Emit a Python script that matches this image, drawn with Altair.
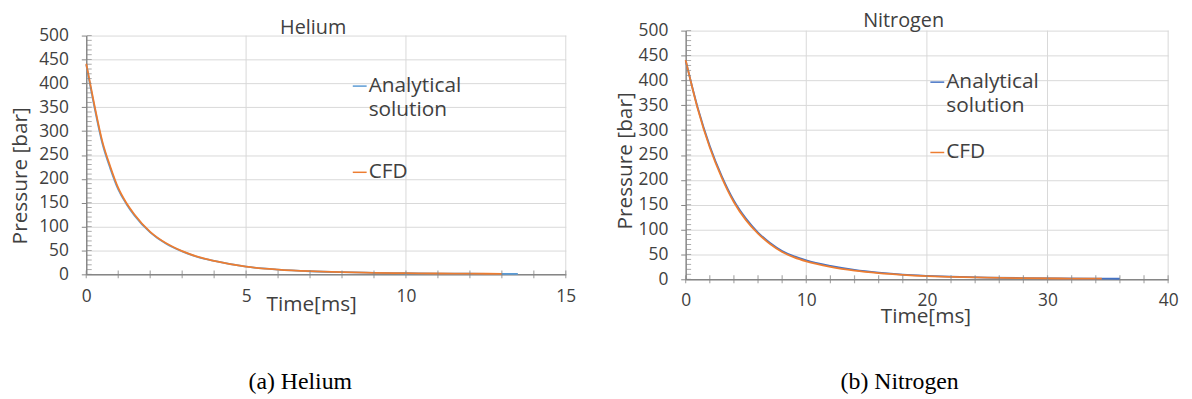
import altair as alt
import pandas as pd

# ---------------- data ----------------
he_t_analytical = [0, 0.25, 0.5, 0.75, 1, 1.25, 1.5, 2, 2.5, 3, 3.5, 4, 5, 6, 7, 8, 9, 10, 11, 12, 13, 13.5]
he_p_analytical = [439, 352, 275, 222, 178, 148, 124, 88, 64, 48, 36, 28, 16, 10, 6.5, 4.5, 3.2, 2.3, 1.7, 1.3, 1.0, 0.9]
he_t_cfd = [0, 0.25, 0.5, 0.75, 1, 1.25, 1.5, 2, 2.5, 3, 3.5, 4, 5, 6, 7, 8, 9, 10, 11, 12, 13]
he_p_cfd = [441, 356, 279, 226, 181, 150, 126, 89, 65, 48.5, 36.5, 28, 16, 10, 6.6, 4.6, 3.3, 2.4, 1.8, 1.4, 1.1]

n2_t_analytical = [0, 1, 2, 3, 4, 5, 6, 7, 8, 9, 10, 12, 14, 16, 18, 20, 22, 25, 28, 31, 34, 36]
n2_p_analytical = [440, 345, 268, 207, 158, 122, 94, 73, 57, 46, 38, 27, 19, 13.5, 9.5, 7, 5.2, 3.5, 2.5, 1.8, 1.3, 1.1]
n2_t_cfd = [0, 1, 2, 3, 4, 5, 6, 7, 8, 9, 10, 12, 14, 16, 18, 20, 22, 25, 28, 31, 34.5]
n2_p_cfd = [441, 343, 265, 204, 155, 119, 92, 71, 55, 44, 36, 25, 17.5, 12.5, 9, 6.5, 4.8, 3.2, 2.3, 1.6, 1.2]

series_names = ["Analytical solution", "CFD"]
legend_labels = ["Analytical\nsolution", "CFD"]

he_x_labels = [0, 5, 10, 15]
he_x_minor = list(range(0, 16))
n2_x_labels = [0, 10, 20, 30, 40]
n2_x_minor = list(range(0, 41, 2))
y_labels = list(range(0, 501, 50))
y_minor = list(range(0, 501, 10))

LABEL = "#404040"
AXIS = "#868686"
GRID = "#d9d9d9"
FONT = "Open Sans"
BIG = 21
TICKFS = 17.5


def panel(title, caption, t_a, p_a, t_c, p_c, x_labels, x_minor, colors,
          width, height, yrange, title_xy, ytitle_xy, xtitle_xy, legend_xy,
          legend_gap, caption_xy, xlabpad):
    df = pd.DataFrame({
        "t": list(t_a) + list(t_c),
        "p": list(p_a) + list(p_c),
        "series": [series_names[0]] * len(t_a) + [series_names[1]] * len(t_c),
    })
    xmax = x_labels[-1]
    xscale = alt.Scale(domain=[0, xmax], nice=False, zero=True)
    yscale = alt.Scale(domain=[0, 500], nice=False, range=yrange)
    cscale = alt.Scale(domain=series_names, range=colors)

    xaxis = alt.Axis(values=x_labels, tickCount=len(x_labels), grid=False, ticks=False,
                     domainColor=AXIS, domainWidth=1.5, labelColor=LABEL, labelFont=FONT,
                     labelFontSize=TICKFS, labelPadding=xlabpad, labelFlush=False,
                     labelOverlap=False, title="Time[ms]",
                     titleFont=FONT, titleFontSize=BIG, titleFontWeight="normal",
                     titleColor=LABEL, titleX=xtitle_xy[0], titleY=xtitle_xy[1],
                     titleBaseline="alphabetic", titleAlign="center")
    yaxis = alt.Axis(values=y_labels, tickCount=len(y_labels), grid=True, gridColor=GRID,
                     gridWidth=1, ticks=True, tickSize=5, tickColor=AXIS, domainColor=AXIS,
                     domainWidth=1.5, labelColor=LABEL, labelFont=FONT,
                     labelFontSize=TICKFS, labelPadding=13, labelOverlap=False,
                     labelFlush=False, title="Pressure [bar]",
                     titleFont=FONT, titleFontSize=BIG, titleFontWeight="normal",
                     titleColor=LABEL, titleX=ytitle_xy[0], titleY=ytitle_xy[1],
                     titleBaseline="middle", titleAlign="center", titleAngle=270)

    X = lambda f: alt.X(f, scale=xscale, axis=xaxis)
    Y = lambda f: alt.Y(f, scale=yscale, axis=yaxis)

    vgrid_df = pd.DataFrame({"x": [v for v in x_labels if v > 0], "y0": 0, "y1": 500})
    vgrid = alt.Chart(vgrid_df).mark_rule(color=GRID, strokeWidth=1).encode(
        x=X("x:Q"), y=Y("y0:Q"), y2="y1:Q",
    )

    lines = alt.Chart(df).mark_line(strokeWidth=1.8, interpolate="monotone").encode(
        x=X("t:Q"), y=Y("p:Q"),
        color=alt.Color("series:N", scale=cscale, legend=None),
    )

    xt = alt.Chart(pd.DataFrame({"x": x_minor, "y": 0})).mark_tick(
        orient="vertical", size=8, thickness=1.2, color=AXIS).encode(
        x=X("x:Q"), y=Y("y:Q"))

    yt = alt.Chart(pd.DataFrame({"y": y_minor})).mark_tick(
        orient="horizontal", size=5, thickness=1, color=AXIS).encode(
        y=Y("y:Q"), x=alt.value(3))

    leg_df = pd.DataFrame({"series": series_names, "label": legend_labels,
                           "ly": [legend_xy[1], legend_xy[1] + legend_gap]})
    leg_rule = alt.Chart(leg_df).mark_rule(strokeWidth=1.5).encode(
        x=alt.value(legend_xy[0] - 16), x2=alt.value(legend_xy[0] - 2),
        y=alt.Y("ly:Q", scale=None),
        color=alt.Color("series:N", scale=cscale, legend=None),
    )
    leg_text = alt.Chart(leg_df).mark_text(
        align="left", baseline="middle", font=FONT, fontSize=BIG, color=LABEL,
        lineBreak="\n", lineHeight=24).encode(
        x=alt.value(legend_xy[0]), y=alt.Y("ly:Q", scale=None), text="label:N")

    ttl = alt.Chart(pd.DataFrame({"s": [title]})).mark_text(
        align="center", baseline="alphabetic", font=FONT, fontSize=BIG - 1,
        color=LABEL).encode(x=alt.value(title_xy[0]), y=alt.value(title_xy[1]), text="s:N")

    cap = alt.Chart(pd.DataFrame({"s": [caption]})).mark_text(
        align="center", baseline="alphabetic", font="Liberation Serif", fontSize=24,
        color="#000000").encode(x=alt.value(caption_xy[0]), y=alt.value(caption_xy[1]), text="s:N")

    return alt.layer(vgrid, lines, xt, yt, leg_rule, leg_text, ttl, cap).properties(
        width=width, height=height)


left = panel("Helium", "(a)  Helium", he_t_analytical, he_p_analytical, he_t_cfd, he_p_cfd,
             he_x_labels, he_x_minor, ["#5B9BD5", "#ED7D31"],
             width=484, height=246, yrange=[246, 5],
             title_xy=(229, 3), ytitle_xy=(-66, 146), xtitle_xy=(227, 36),
             legend_xy=(285, 56), legend_gap=87, caption_xy=(216, 362), xlabpad=13)

right = panel("Nitrogen", "(b)  Nitrogen", n2_t_analytical, n2_p_analytical, n2_t_cfd, n2_p_cfd,
              n2_x_labels, n2_x_minor, ["#4472C4", "#ED7D31"],
              width=487, height=251, yrange=[251, 0],
              title_xy=(220, -4), ytitle_xy=(-61, 131), xtitle_xy=(242, 44),
              legend_xy=(263, 52), legend_gap=71, caption_xy=(216, 362), xlabpad=12)

chart = alt.hconcat(left, right, spacing=121, bounds="flush").resolve_scale(
    x="independent", y="independent", color="independent"
).properties(
    padding={"left": 2, "top": 1, "right": 5, "bottom": 5},
    background="white",
).configure_view(stroke=None)

chart.save("out.html", embed_options={"renderer": "svg", "actions": False})
